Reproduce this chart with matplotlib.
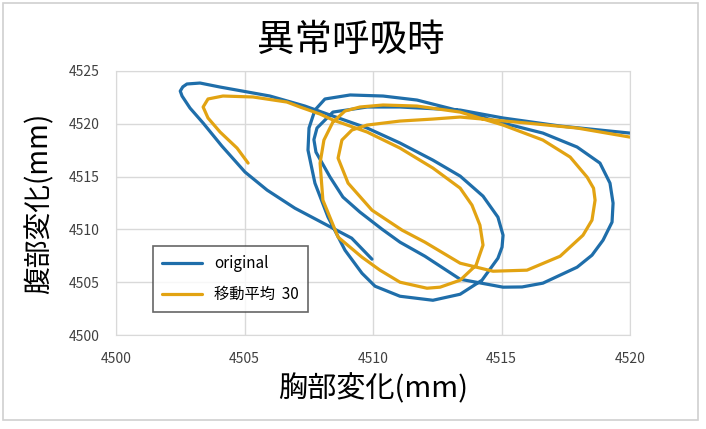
import matplotlib
matplotlib.use("Agg")
import matplotlib.pyplot as plt
from matplotlib.patches import Rectangle

plt.rcParams['font.family'] = ['Noto Sans CJK JP', 'DejaVu Sans']

# values (chest, abdomen) in mm
orig_x = [4509.96, 4509.17, 4506.96, 4505.88, 4505.02, 4504.12, 4503.39, 4502.88, 4502.57, 4502.50,
          4502.60, 4502.76, 4503.27, 4504.05, 4505.99, 4507.35, 4508.33, 4509.77, 4511.05, 4512.33,
          4513.39, 4514.28, 4514.86, 4515.06, 4515.02, 4514.86, 4514.24, 4513.39, 4512.33, 4511.05,
          4510.08, 4509.57, 4508.91, 4508.25, 4507.74, 4507.47, 4507.51, 4507.74, 4508.13, 4509.11,
          4510.39, 4511.71, 4513.39, 4515.06, 4516.61, 4517.94, 4518.83, 4519.22, 4519.34, 4519.30,
          4518.95, 4518.52, 4517.94, 4516.61, 4515.80, 4515.06, 4513.39, 4512.02, 4511.05, 4510.35,
          4509.49, 4508.83, 4508.33, 4507.78, 4507.70, 4507.82, 4508.44, 4509.77, 4511.05, 4513.39,
          4515.06, 4517.28, 4520.00]
orig_y = [4507.18, 4509.17, 4512.01, 4513.72, 4515.43, 4517.89, 4520.07, 4521.49, 4522.63, 4523.10,
          4523.50, 4523.77, 4523.86, 4523.48, 4522.63, 4521.68, 4520.83, 4519.60, 4518.18, 4516.56,
          4515.05, 4513.15, 4511.16, 4509.45, 4508.32, 4507.27, 4505.19, 4503.86, 4503.29, 4503.67,
          4504.62, 4505.85, 4508.03, 4511.16, 4514.38, 4517.51, 4519.60, 4521.30, 4522.35, 4522.73,
          4522.63, 4522.25, 4521.21, 4520.07, 4519.12, 4517.80, 4516.28, 4514.38, 4512.49, 4510.69,
          4508.98, 4507.56, 4506.42, 4504.91, 4504.55, 4504.53, 4505.28, 4507.46, 4508.79, 4510.02,
          4511.64, 4513.06, 4514.95, 4517.32, 4518.50, 4519.60, 4521.11, 4521.59, 4521.59, 4521.30,
          4520.55, 4519.79, 4519.12]

ma_x = [4505.14, 4504.71, 4504.05, 4503.58, 4503.39, 4503.58, 4504.16, 4505.33, 4506.65, 4507.16,
        4507.94, 4508.44, 4509.77, 4511.05, 4512.33, 4513.39, 4513.85, 4514.16, 4514.28, 4514.01,
        4513.39, 4512.61, 4512.10, 4511.05, 4510.27, 4509.57, 4508.64, 4508.05, 4507.94, 4508.09,
        4508.44, 4508.91, 4509.49, 4510.39, 4511.71, 4513.39, 4515.06, 4516.61, 4517.67, 4518.33,
        4518.58, 4518.64, 4518.52, 4518.17, 4517.28, 4515.99, 4514.67, 4513.39, 4512.02, 4511.13,
        4509.96, 4509.03, 4508.64, 4508.79, 4509.18, 4509.77, 4511.05, 4512.33, 4513.39, 4515.99,
        4517.94, 4520.00]
ma_y = [4516.28, 4517.70, 4519.22, 4520.55, 4521.59, 4522.35, 4522.63, 4522.54, 4522.06, 4521.59,
        4520.92, 4520.36, 4519.22, 4517.70, 4515.81, 4513.91, 4512.30, 4510.40, 4508.51, 4506.61,
        4505.19, 4504.53, 4504.43, 4505.00, 4506.14, 4507.37, 4509.27, 4512.77, 4516.28, 4518.46,
        4520.17, 4521.21, 4521.59, 4521.78, 4521.68, 4521.11, 4519.88, 4518.46, 4516.85, 4514.95,
        4513.90, 4512.77, 4510.88, 4509.45, 4507.46, 4506.14, 4506.04, 4506.80, 4508.79, 4509.93,
        4511.82, 4514.38, 4516.75, 4518.46, 4519.41, 4519.88, 4520.26, 4520.45, 4520.64, 4520.07,
        4519.60, 4518.74]

x_ticks = [4500, 4505, 4510, 4515, 4520]
y_ticks = [4500, 4505, 4510, 4515, 4520, 4525]

fig = plt.figure(figsize=(7.06, 4.29), dpi=100)
ax = fig.add_axes([0.1643, 0.2191, 0.7281, 0.6154])

# outer chart border
fig.patches.append(Rectangle((0.004, 0.02), 0.984, 0.972, transform=fig.transFigure,
                             fill=False, edgecolor='#d0d0d0', linewidth=1.2))

ax.plot(orig_x, orig_y, color='#1f6eaa', lw=2.3, solid_joinstyle='round', solid_capstyle='round',
        label='original')
ax.plot(ma_x, ma_y, color='#e2a312', lw=2.3, solid_joinstyle='round', solid_capstyle='round',
        label='移動平均  30')

ax.set_xlim(4500, 4520)
ax.set_ylim(4500, 4525)
ax.set_xticks(x_ticks)
ax.set_yticks(y_ticks)
ax.tick_params(length=0, labelsize=10, colors='#404040', pad=12)
ax.grid(True, color='#d9d9d9', lw=1)
ax.set_axisbelow(True)
for s in ax.spines.values():
    s.set_color('#d9d9d9')

fig.text(0.497, 0.905, '異常呼吸時', fontsize=27, ha='center', va='center')
ax.set_xlabel('胸部変化(mm)', fontsize=21, labelpad=6)
ax.set_ylabel('腹部変化(mm)', fontsize=20, labelpad=10)

leg = ax.legend(loc='lower left', bbox_to_anchor=(0.072, 0.087), borderaxespad=0, fontsize=11,
                frameon=True, fancybox=False, edgecolor='#404040', handlelength=2.6,
                borderpad=0.6, labelspacing=0.9)
leg.get_frame().set_linewidth(1.2)

fig.savefig('out.png', dpi=100)
